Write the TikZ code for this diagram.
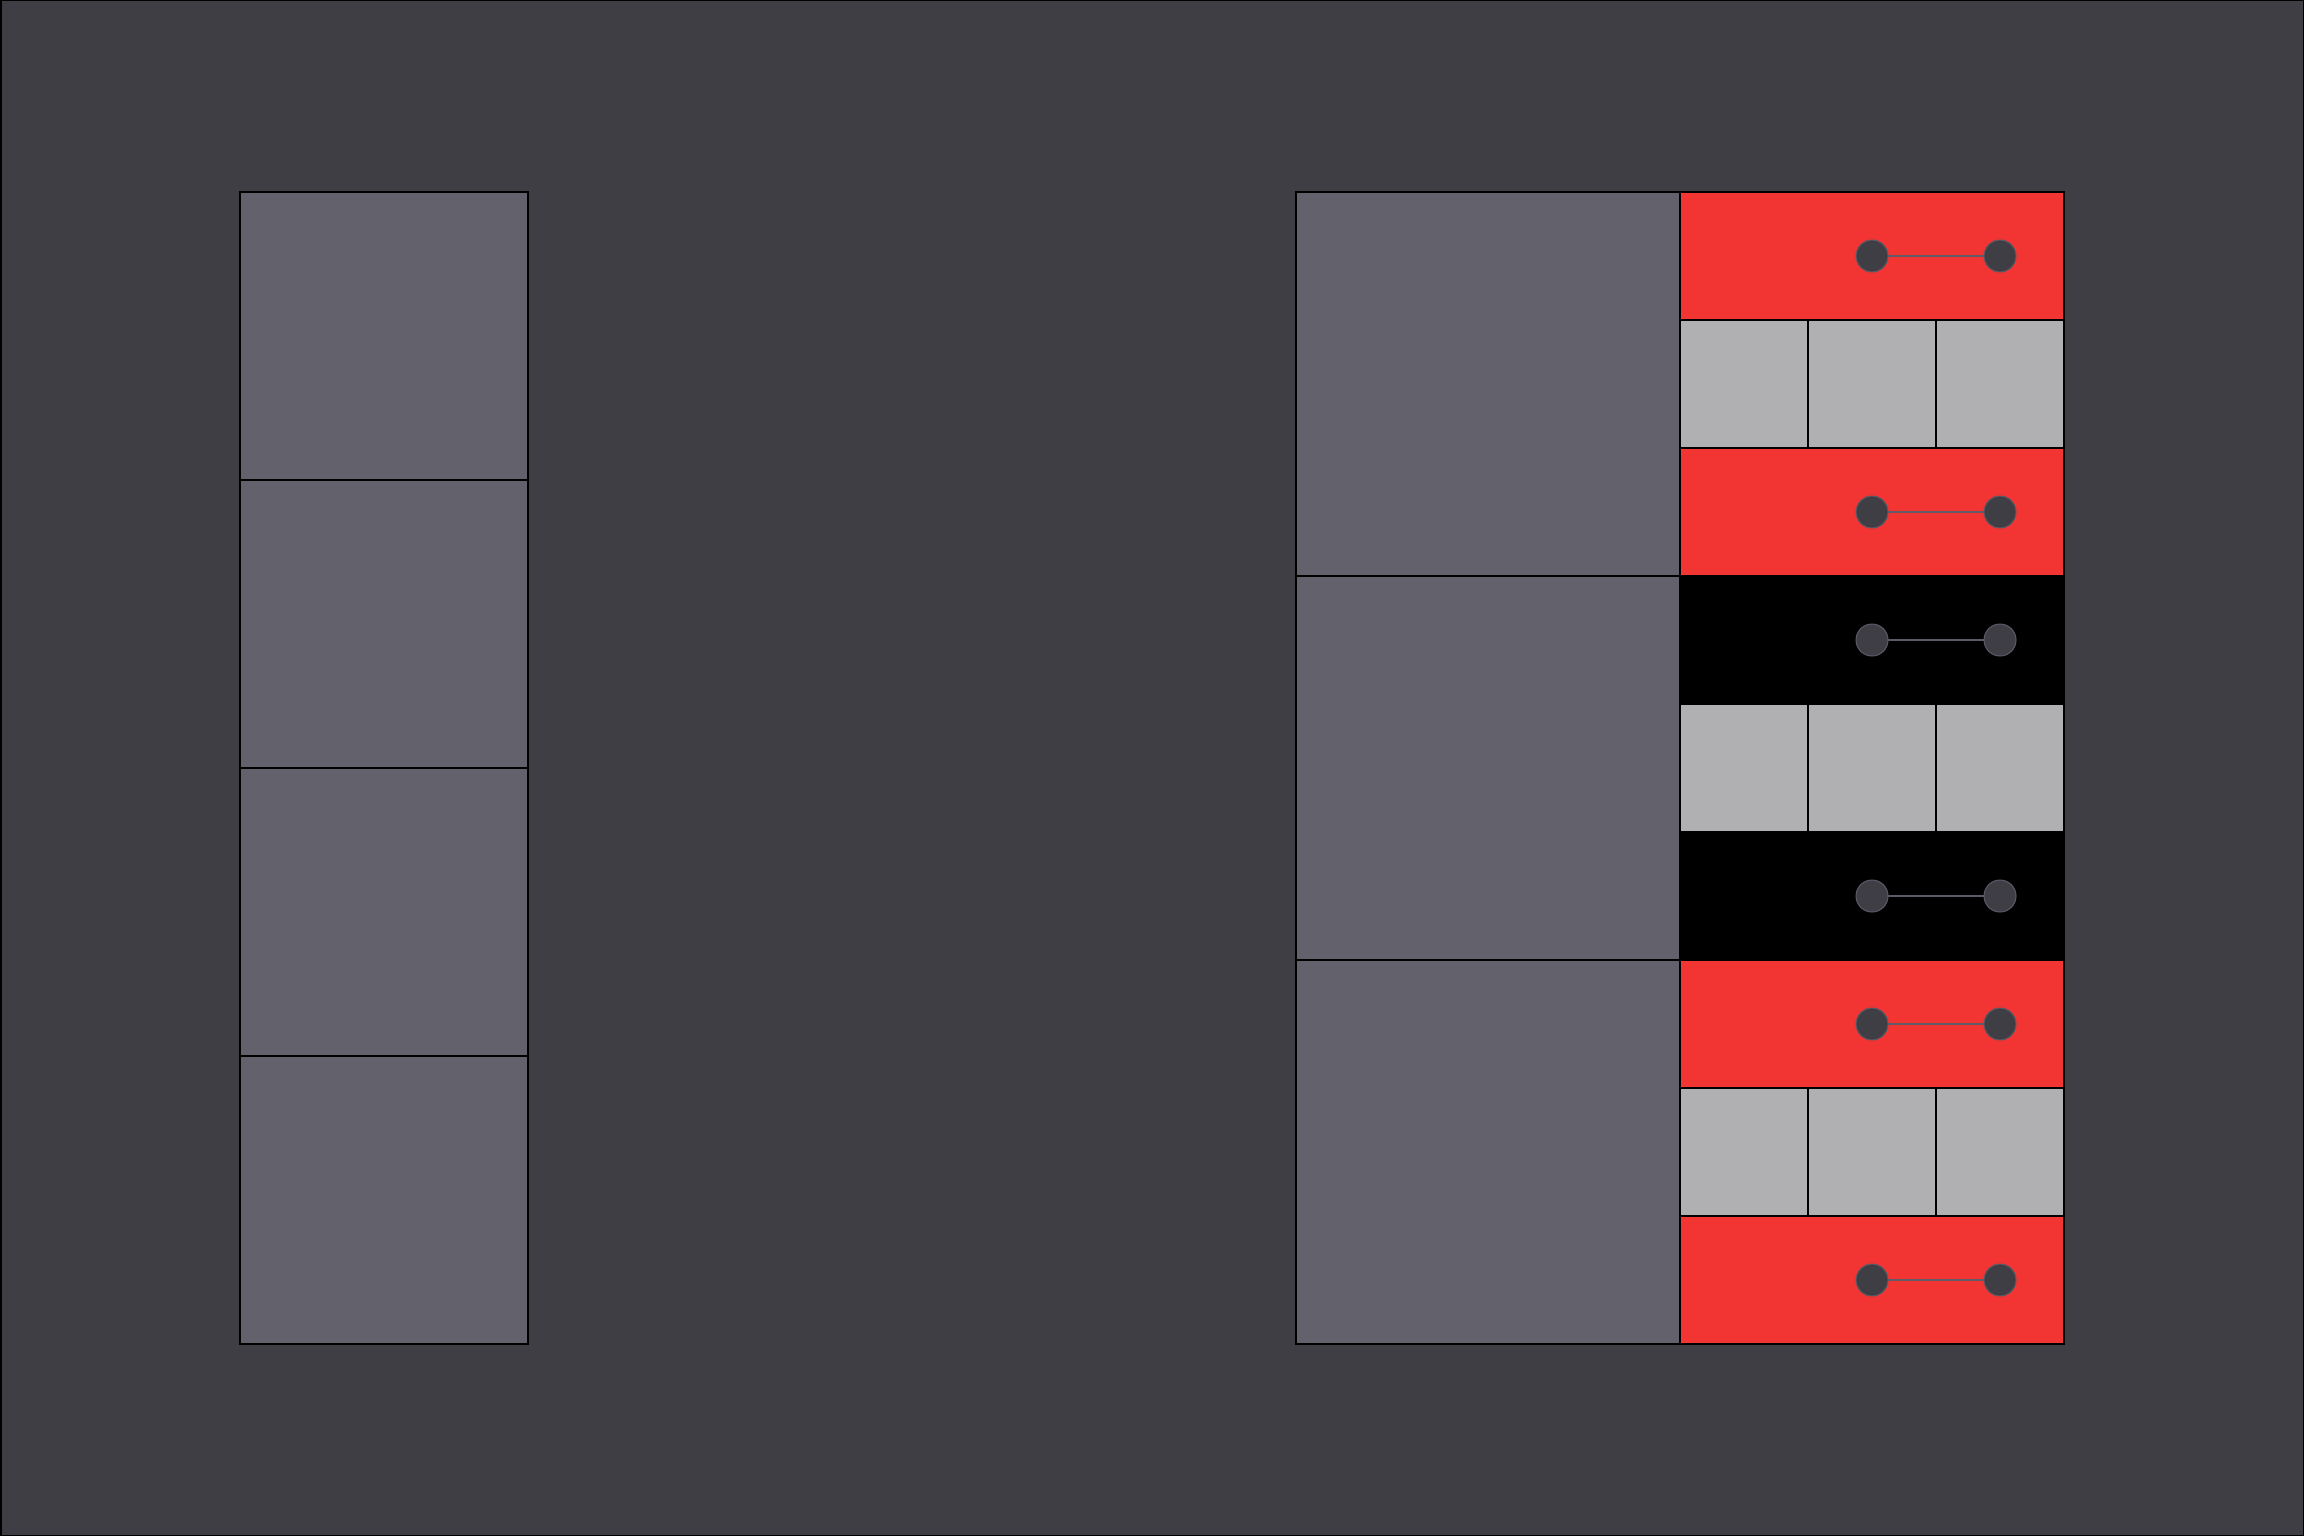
\documentclass[tikz,border=0pt]{standalone}
\usepackage{xcolor}
\usetikzlibrary{positioning}
\definecolor{bgdark}{HTML}{3F3E44}
\definecolor{slate}{HTML}{63616C}
\definecolor{signal}{HTML}{F23433}
\definecolor{pale}{HTML}{B0B0B2}
\definecolor{dotring}{HTML}{5C5B66}

\begin{document}
\begin{tikzpicture}[
    x=1pt, y=-1pt,
    every node/.style={draw, rectangle, inner sep=0pt, outer sep=0pt,
line width=1.5pt, node distance=0pt},
    tile/.style={fill=slate, minimum width=288pt, minimum height=288pt},
    block/.style={fill=slate, minimum width=384pt, minimum height=384pt},
    band/.style={minimum width=384pt, minimum height=128pt},
    cell/.style={fill=pale, minimum width=128pt, minimum height=128pt},
    dot/.style={circle, fill=bgdark, draw=dotring, line width=1pt, minimum size=32pt},
    link/.style={draw=dotring, line width=1.2pt}]

    \useasboundingbox (0,0) rectangle (2304,1536);
    \fill[bgdark] (0,0) rectangle (2304,1536);
    \draw[black, line width=3pt] (0,0) rectangle (2304,1536);

    % left column
    \node[tile, anchor=north west] (sq1) at (240,192) {};
        \node[tile, below=of sq1] (sq2) {};
        \node[tile, below=of sq2] (sq3) {};
        \node[tile, below=of sq3] (sq4) {};

    % right column, big blocks
    \node[block, anchor=north west] (blk1) at (1296,192) {};
        \node[block, below=of blk1] (blk2) {};
        \node[block, below=of blk2] (blk3) {};

    % strips beside the blocks
    \node[band, fill=signal, anchor=north west] (bandA) at (blk1.north east) {};
        \node[cell, below right=of bandA.south west] (cellA1) {};
        \node[cell, right=of cellA1] (cellA2) {};
        \node[cell, right=of cellA2] (cellA3) {};
    \node[band, fill=signal, below=of cellA2] (bandB) {};
    \node[band, fill=black, below=of bandB] (bandC) {};
        \node[cell, below right=of bandC.south west] (cellB1) {};
        \node[cell, right=of cellB1] (cellB2) {};
        \node[cell, right=of cellB2] (cellB3) {};
    \node[band, fill=black, below=of cellB2] (bandD) {};
    \node[band, fill=signal, below=of bandD] (bandE) {};
        \node[cell, below right=of bandE.south west] (cellC1) {};
        \node[cell, right=of cellC1] (cellC2) {};
        \node[cell, right=of cellC2] (cellC3) {};
    \node[band, fill=signal, below=of cellC2] (bandF) {};

    % dot pairs
    \foreach \b in {A,B,C,D,E,F} {
        \node[dot] (dot\b1) at (band\b.center) {};
        \node[dot, right=96pt of dot\b1] (dot\b2) {};
        \draw[link] (dot\b1) -- (dot\b2);
    }

\end{tikzpicture}
\end{document}
